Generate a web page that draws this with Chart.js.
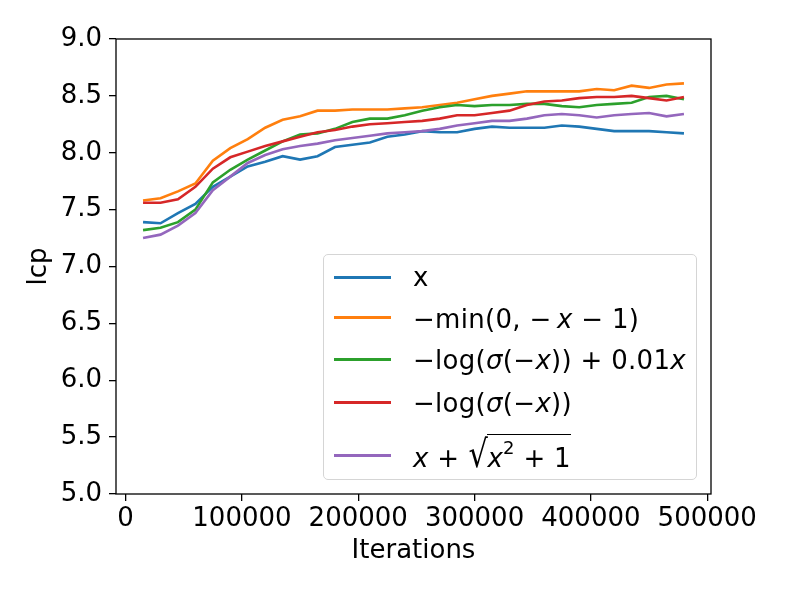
<!DOCTYPE html>
<html>
<head>
<meta charset="utf-8">
<script src="https://cdn.jsdelivr.net/npm/chart.js@4.4.0/dist/chart.umd.min.js"></script>
<style>
  body { margin: 0; background: #fff; }
  #wrap { position: relative; width: 789px; height: 592px; }
  #legend {
    position: absolute; left: 323px; top: 254px; width: 372px; height: 224px;
    border: 1.5px solid #d5d5d5; border-radius: 5px; background: rgba(255,255,255,0.8);
    font-family: "DejaVu Sans", sans-serif; font-size: 26px; color: #000;
  }
  .handle { position: absolute; left: 10px; width: 57px; height: 3px; }
  .lab { position: absolute; left: 89px; line-height: 24px; white-space: nowrap; letter-spacing: 0.3px; }
  .lab i { font-style: oblique; }
  .rad { border-top: 1.5px solid #000; padding-top: 8px; }
  .sq { font-size: 38px; display: inline-block; transform: scaleX(0.8); margin: 0 -3px 0 -2px; }
  .sup { font-size: 18px; position: relative; top: -13px; }
</style>
</head>
<body>
<div id="wrap">
  <canvas id="lcp-chart" width="789" height="592"></canvas>
  <div id="legend"></div>
</div>
<script>
// data
const iterations = [15000, 30000, 45000, 60000, 75000, 90000, 105000, 120000, 135000, 150000,
  165000, 180000, 195000, 210000, 225000, 240000, 255000, 270000, 285000, 300000,
  315000, 330000, 345000, 360000, 375000, 390000, 405000, 420000, 435000, 450000,
  465000, 480000];

const lcpX = [7.39, 7.38, 7.47, 7.55, 7.70, 7.79, 7.88, 7.92, 7.97, 7.94,
  7.97, 8.05, 8.07, 8.09, 8.14, 8.16, 8.19, 8.18, 8.18, 8.21,
  8.23, 8.22, 8.22, 8.22, 8.24, 8.23, 8.21, 8.19, 8.19, 8.19,
  8.18, 8.17];
const lcpMin = [7.58, 7.60, 7.66, 7.73, 7.93, 8.04, 8.12, 8.22, 8.29, 8.32,
  8.37, 8.37, 8.38, 8.38, 8.38, 8.39, 8.40, 8.42, 8.44, 8.47,
  8.50, 8.52, 8.54, 8.54, 8.54, 8.54, 8.56, 8.55, 8.59, 8.57,
  8.60, 8.61];
const lcpLogSigLin = [7.32, 7.34, 7.39, 7.50, 7.74, 7.85, 7.94, 8.02, 8.10, 8.16,
  8.17, 8.21, 8.27, 8.30, 8.30, 8.33, 8.37, 8.40, 8.42, 8.41,
  8.42, 8.42, 8.43, 8.43, 8.41, 8.40, 8.42, 8.43, 8.44, 8.49,
  8.50, 8.47];
const lcpLogSig = [7.56, 7.56, 7.59, 7.70, 7.86, 7.96, 8.01, 8.06, 8.10, 8.14,
  8.18, 8.20, 8.23, 8.25, 8.26, 8.27, 8.28, 8.30, 8.33, 8.33,
  8.35, 8.37, 8.42, 8.45, 8.46, 8.48, 8.49, 8.49, 8.50, 8.48,
  8.46, 8.49];
const lcpSqrt = [7.25, 7.28, 7.36, 7.47, 7.67, 7.79, 7.91, 7.98, 8.03, 8.06,
  8.08, 8.11, 8.13, 8.15, 8.17, 8.18, 8.19, 8.21, 8.24, 8.26,
  8.28, 8.28, 8.30, 8.33, 8.34, 8.33, 8.31, 8.33, 8.34, 8.35,
  8.32, 8.34];

const xTicks = [0, 100000, 200000, 300000, 400000, 500000];
const yTicks = [5.0, 5.5, 6.0, 6.5, 7.0, 7.5, 8.0, 8.5, 9.0];

const seriesNames = [
  "x",
  "−min(0,&nbsp;−&thinsp;<i>x</i> − 1)",
  "−log(<i>σ</i>(−<i>x</i>)) + 0.01<i>x</i>",
  "−log(<i>σ</i>(−<i>x</i>))",
  "<i>x</i> + <span class=\"sq\">√</span><span class=\"rad\"><i>x</i><span class=\"sup\">2</span> + 1</span>",
];
const seriesData = [lcpX, lcpMin, lcpLogSigLin, lcpLogSig, lcpSqrt];
const colors = ["#1f77b4", "#ff7f0e", "#2ca02c", "#d62728", "#9467bd"];

const FONT = "DejaVu Sans";

// full box around the axes, like matplotlib spines
const frame = {
  id: "frame",
  afterDraw(chart) {
    const { ctx, chartArea: a } = chart;
    ctx.save();
    ctx.strokeStyle = "#000";
    ctx.lineWidth = 1.3;
    ctx.strokeRect(a.left, a.top, a.right - a.left, a.bottom - a.top);
    ctx.restore();
  },
};

const ctx = document.getElementById("lcp-chart").getContext("2d");
const lcpChart = new Chart(ctx, {
  type: "line",
  data: {
    datasets: seriesData.map((vals, i) => ({
      label: seriesNames[i],
      data: iterations.map((it, j) => ({ x: it, y: vals[j] })),
      borderColor: colors[i],
      borderWidth: 2.6,
      pointRadius: 0,
      tension: 0,
      fill: false,
      order: seriesData.length - i,
    })),
  },
  options: {
    responsive: false,
    animation: false,
    devicePixelRatio: 1,
    layout: { padding: { left: 0, top: 39, right: 78, bottom: 0 } },
    plugins: { legend: { display: false }, tooltip: { enabled: false } },
    scales: {
      x: {
        type: "linear",
        min: -8250,
        max: 503250,
        afterBuildTicks: (scale) => { scale.ticks = xTicks.map((v) => ({ value: v })); },
        afterFit: (scale) => { scale.height = 98; },
        grid: { display: true, drawOnChartArea: false, drawTicks: true, tickLength: 7, color: "#000", lineWidth: 1.3 },
        border: { display: false },
        ticks: { color: "#000", font: { family: FONT, size: 26 }, padding: 3, maxRotation: 0, callback: (v) => String(v) },
        title: { display: true, text: "Iterations", color: "#000", font: { family: FONT, size: 26 }, padding: { top: 0, bottom: 25 } },
      },
      y: {
        min: 5,
        max: 9,
        afterBuildTicks: (scale) => { scale.ticks = yTicks.map((v) => ({ value: v })); },
        afterFit: (scale) => { scale.width = 116; },
        grid: { display: true, drawOnChartArea: false, drawTicks: true, tickLength: 7, color: "#000", lineWidth: 1.3 },
        border: { display: false },
        ticks: { color: "#000", font: { family: FONT, size: 26 }, padding: 7, callback: (v) => v.toFixed(1) },
        title: { display: true, text: "lcp", color: "#000", font: { family: FONT, size: 26 }, padding: { top: 24, bottom: 0 } },
      },
    },
  },
  plugins: [frame],
});

// legend drawn as html so the maths keeps italics and the radical bar
const handleY = [22, 62.5, 104, 147, 200];
const baseY = [31, 72.5, 114, 157, 208];
const legend = document.getElementById("legend");
seriesNames.forEach((name, i) => {
  const h = document.createElement("div");
  h.className = "handle";
  h.style.top = (handleY[i] - 1.5) + "px";
  h.style.background = colors[i];
  legend.appendChild(h);
  const t = document.createElement("div");
  t.className = "lab";
  t.style.top = (baseY[i] - 21) + "px";
  t.innerHTML = name;
  legend.appendChild(t);
});
</script>
</body>
</html>
